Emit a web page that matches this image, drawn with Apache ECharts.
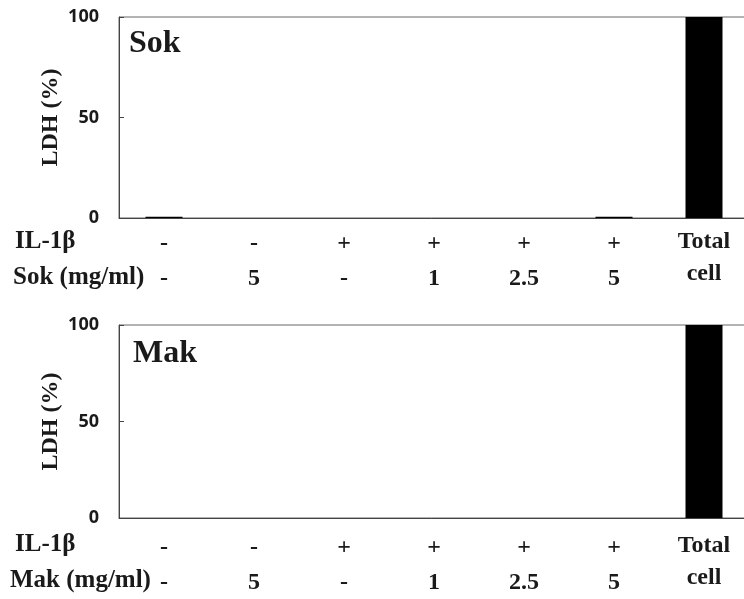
<!DOCTYPE html>
<html>
<head>
<meta charset="utf-8">
<script src="https://cdn.jsdelivr.net/npm/echarts@6/dist/echarts.min.js"></script>
<style>
  html, body { margin: 0; padding: 0; background: #fff; }
  #chart { width: 744px; height: 599px; }
</style>
</head>
<body>
<div id="chart"></div>
<script>
// row labels under each bar
const ilRow = ['-', '-', '+', '+', '+', '+', 'Total']
const doseRow = ['-', '5', '-', '1', '2.5', '5', 'cell']
const categories = ilRow.map((v, i) => v + ' ' + doseRow[i])

// LDH (%) per group
const sokValues = [0.6, 0, 0, 0, 0, 0.6, 100]
const makValues = [0, 0, 0, 0, 0, 0, 100]
const yTicks = [0, 50, 100]

const serif = '"Liberation Serif", "Times New Roman", serif'
const textColor = '#1a1a1a'
const axisColor = '#444'

const chart = echarts.init(document.getElementById('chart'))

function xAxisFor (gridIndex, margin) {
  return {
    type: 'category',
    gridIndex: gridIndex,
    data: categories,
    axisLine: { lineStyle: { color: axisColor, width: 1 } },
    axisTick: { show: false },
    axisLabel: {
      interval: 0,
      margin: margin,
      fontFamily: serif,
      fontWeight: 'bold',
      fontSize: 24,
      lineHeight: 35,
      color: textColor,
      formatter: function (value, idx) {
        if (idx === categories.length - 1) {
          return '{t|' + ilRow[idx] + '}\n{t|' + doseRow[idx] + '}'
        }
        return ilRow[idx] + '\n' + doseRow[idx]
      },
      rich: {
        t: { fontFamily: serif, fontWeight: 'bold', fontSize: 24, lineHeight: 32, color: textColor }
      }
    }
  }
}

function yAxisFor (gridIndex) {
  return {
    type: 'value',
    gridIndex: gridIndex,
    min: yTicks[0],
    max: yTicks[yTicks.length - 1],
    interval: 50,
    name: 'LDH (%)',
    nameLocation: 'middle',
    nameGap: 56,
    nameMoveOverlap: false,
    nameTextStyle: { fontFamily: serif, fontWeight: 'bold', fontSize: 24, color: textColor },
    axisLine: { show: true, lineStyle: { color: axisColor, width: 1 } },
    axisTick: { show: true, inside: true, length: 5, lineStyle: { color: axisColor } },
    splitLine: { show: false },
    axisLabel: {
      margin: 20,
      fontFamily: '"Open Sans", sans-serif',
      fontWeight: 'bold',
      fontSize: 18,
      color: textColor
    }
  }
}

function seriesFor (idx, values) {
  return {
    type: 'bar',
    xAxisIndex: idx,
    yAxisIndex: idx,
    data: values,
    barWidth: 37,
    itemStyle: { color: '#000' },
    silent: true
  }
}

function panelText (text, x, y, size) {
  return {
    type: 'text',
    x: x,
    y: y,
    style: {
      text: text,
      fontFamily: serif,
      fontWeight: 'bold',
      fontSize: size,
      fill: textColor,
      align: 'left',
      verticalAlign: 'middle'
    }
  }
}

// plot area runs past the right edge of the picture
const option = {
  animation: false,
  grid: [
    { left: 119, width: 630, top: 17, height: 201, outerBoundsMode: 'none', containLabel: false, show: true, borderColor: '#666', borderWidth: 1, backgroundColor: 'transparent' },
    { left: 119, width: 630, top: 325, height: 193, outerBoundsMode: 'none', containLabel: false, show: true, borderColor: '#666', borderWidth: 1, backgroundColor: 'transparent' }
  ],
  xAxis: [xAxisFor(0, 8), xAxisFor(1, 12)],
  yAxis: [yAxisFor(0), yAxisFor(1)],
  series: [seriesFor(0, sokValues), seriesFor(1, makValues)],
  graphic: [
    panelText('Sok', 129, 44, 32),
    panelText('Mak', 133, 354, 32),
    panelText('IL-1β', 15, 242, 25),
    panelText('Sok (mg/ml)', 13, 278, 25),
    panelText('IL-1β', 15, 545, 25),
    panelText('Mak (mg/ml)', 10, 581, 25)
  ]
}

chart.setOption(option)
</script>
</body>
</html>
